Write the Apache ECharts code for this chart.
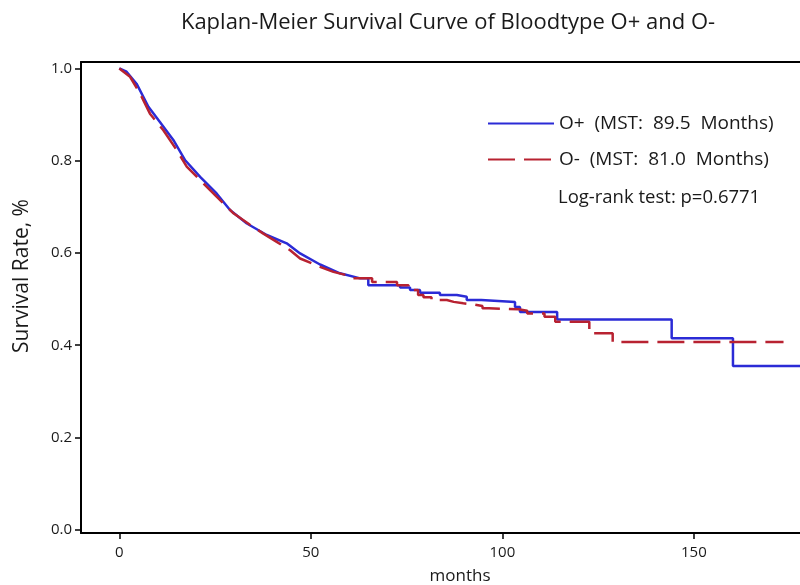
<!DOCTYPE html>
<html>
<head>
<meta charset="utf-8">
<script src="https://cdn.jsdelivr.net/npm/echarts@6/dist/echarts.min.js"></script>
<style>
html,body{margin:0;padding:0;background:#fff;}
#chart{width:800px;height:585px;}
</style>
</head>
<body>
<div id="chart"></div>
<script>
// ---- data ----
var chartTitle = 'Kaplan-Meier Survival Curve of Bloodtype O+ and O-';
var seriesNames = ['O+  (MST:  89.5  Months)', 'O-  (MST:  81.0  Months)'];
var testNote = 'Log-rank test: p=0.6771';
var xAxisName = 'months';
var yAxisName = 'Survival Rate, %';
var xTicks = [0, 50, 100, 150];
var yTicks = [0.0, 0.2, 0.4, 0.6, 0.8, 1.0];

// O+ curve vertices: months, survival
var oPlusMonths = [0, 1.9, 4.5, 7.6, 10.6, 14.1, 17.2, 21.1, 25.4, 28.9, 33.3, 38.5, 43.7, 47.2, 52.4, 57.6, 62.9,
  65.0, 65.0, 73.3, 73.3, 75.9, 75.9, 78.5, 78.5, 83.7, 83.7, 88.1, 88.1, 90.7, 90.7, 94.5, 94.5,
  103.3, 103.3, 104.6, 104.6, 114.3, 114.3, 144.2, 144.2, 160.2, 160.2, 177.7];
var oPlusSurv = [1.0, 0.993, 0.967, 0.917, 0.884, 0.845, 0.801, 0.765, 0.729, 0.693, 0.664, 0.639, 0.621, 0.599, 0.575, 0.556, 0.545,
  0.545, 0.530, 0.530, 0.525, 0.525, 0.520, 0.520, 0.514, 0.514, 0.509, 0.509, 0.505, 0.505, 0.498, 0.498, 0.494,
  0.494, 0.483, 0.483, 0.472, 0.472, 0.456, 0.456, 0.415, 0.415, 0.355, 0.355];

// O- curve vertices: months, survival
var oMinusMonths = [0, 2.8, 5.4, 8.0, 11.5, 15.0, 17.6, 21.1, 25.4, 29.8, 34.1, 37.6, 41.1, 44.6, 47.2, 52.4, 55.9, 60.2, 61.0,
  66.0, 66.0, 72.5, 72.5, 75.5, 75.5, 78.0, 78.0, 79.4, 79.4, 81.5, 81.5, 85.5, 85.5, 87.3, 87.3, 89.8, 89.8, 92.8, 92.8,
  94.8, 94.8, 96.5, 96.5, 104.2, 104.2, 106.5, 106.5, 111.0, 111.0, 113.8, 113.8, 122.7, 122.7, 128.8, 128.8, 173.4];
var oMinusSurv = [1.0, 0.982, 0.946, 0.902, 0.866, 0.823, 0.787, 0.758, 0.722, 0.686, 0.661, 0.642, 0.624, 0.606, 0.588, 0.570, 0.559, 0.550, 0.545,
  0.545, 0.537, 0.537, 0.530, 0.530, 0.520, 0.520, 0.509, 0.509, 0.504, 0.504, 0.498, 0.498, 0.494, 0.494, 0.491, 0.491, 0.488, 0.488, 0.485,
  0.485, 0.480, 0.480, 0.478, 0.478, 0.475, 0.475, 0.469, 0.469, 0.462, 0.462, 0.451, 0.451, 0.426, 0.426, 0.407, 0.407];

function pairs(xs, ys) { return xs.map(function (x, i) { return [x, ys[i]]; }); }

var FONT = 'Open Sans';
var TXT = '#1a1a1a';
var X_MIN = -10, X_MAX = 177.7, Y_MIN = -0.007, Y_MAX = 1.014;
var chart = echarts.init(document.getElementById('chart'), null, { renderer: 'canvas' });
chart.setOption({
  backgroundColor: '#ffffff',
  animation: false,
  title: {
    text: chartTitle,
    left: 443, top: 7, textAlign: 'center',
    textStyle: { fontFamily: FONT, fontSize: 22, fontWeight: 'normal', color: TXT }
  },
  legend: {
    orient: 'vertical',
    left: 487, top: 114, padding: 0,
    itemWidth: 66, itemHeight: 14, itemGap: 17,
    itemStyle: { opacity: 0 },
    textStyle: { fontFamily: FONT, fontSize: 19, color: TXT },
    data: seriesNames
  },
  graphic: [{
    type: 'text', x: 558, y: 198,
    style: { text: testNote, fontFamily: FONT, fontSize: 18.5, fill: TXT, textVerticalAlign: 'middle' }
  }, {
    type: 'text', x: 460, y: 576,
    style: { text: xAxisName, fontFamily: FONT, fontSize: 17, fill: TXT, textAlign: 'center', textVerticalAlign: 'middle' }
  }, {
    type: 'text', x: 22, y: 276, rotation: Math.PI / 2,
    style: { text: yAxisName, fontFamily: FONT, fontSize: 21, fill: TXT, textAlign: 'center', textVerticalAlign: 'middle' }
  }],
  grid: { left: 81, top: 62, right: 0, bottom: 52, show: false, containLabel: false },
  xAxis: [{
    type: 'value', min: X_MIN, max: X_MAX, position: 'bottom',
    axisLine: { onZero: false, lineStyle: { color: '#000', width: 2 } },
    axisTick: { show: true, length: 6, lineStyle: { color: '#000', width: 1.5 }, customValues: xTicks },
    axisLabel: { fontFamily: FONT, fontSize: 15, color: TXT, margin: 12, customValues: xTicks },
    splitLine: { show: false }
  }, {
    type: 'value', min: X_MIN, max: X_MAX, position: 'top',
    axisLine: { onZero: false, lineStyle: { color: '#000', width: 2 } },
    axisTick: { show: false }, axisLabel: { show: false }, splitLine: { show: false }
  }],
  yAxis: {
    type: 'value', min: Y_MIN, max: Y_MAX,
    axisLine: { show: true, onZero: false, lineStyle: { color: '#000', width: 2 } },
    axisTick: { show: true, length: 6, lineStyle: { color: '#000', width: 1.5 }, customValues: yTicks },
    axisLabel: { fontFamily: FONT, fontSize: 15, color: TXT, margin: 9, customValues: yTicks,
      formatter: function (v) { return v.toFixed(1); } },
    splitLine: { show: false }
  },
  series: [{
    name: seriesNames[0], type: 'line', showSymbol: false, symbol: 'none',
    data: pairs(oPlusMonths, oPlusSurv),
    lineStyle: { color: '#2b2bd6', width: 2.5 },
    itemStyle: { color: '#2b2bd6' }
  }, {
    name: seriesNames[1], type: 'line', showSymbol: false, symbol: 'none',
    data: pairs(oMinusMonths, oMinusSurv),
    lineStyle: { color: '#b82231', width: 2.5, type: [27, 9] },
    itemStyle: { color: '#b82231' }
  }]
});
</script>
</body>
</html>
